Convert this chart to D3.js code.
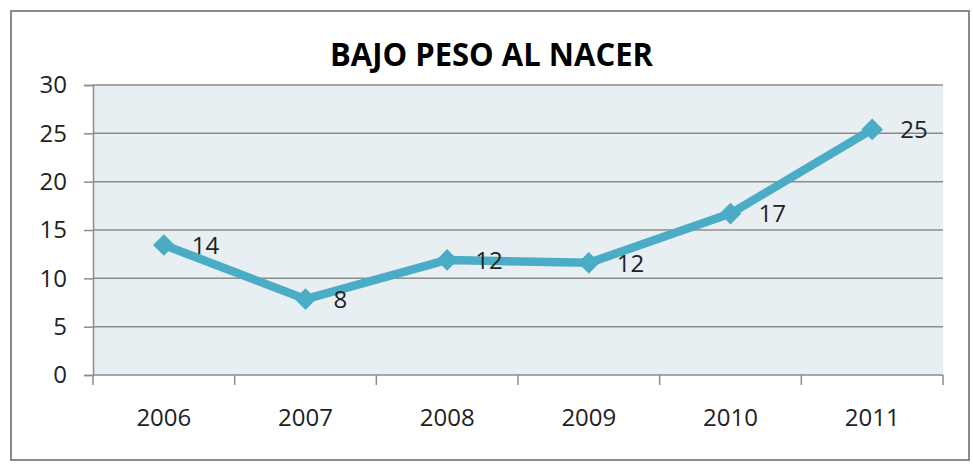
<!DOCTYPE html>
<html>
<head>
<meta charset="utf-8">
<script src="https://cdn.jsdelivr.net/npm/d3@7"></script>
<style>
	body { margin: 0; background: #fff; }
	text { font-family: "Open Sans", sans-serif; fill: #222; }
</style>
</head>
<body>
<div id="chart"></div>
<script>
var years = ['2006', '2007', '2008', '2009', '2010', '2011'];
var values = [13.45, 7.85, 11.9, 11.6, 16.7, 25.4];
var labels = ['14', '8', '12', '12', '17', '25'];
var yTicks = [0, 5, 10, 15, 20, 25, 30];

var
W = 973, H = 466,
margin = {top: 85, right: 30, bottom: 91, left: 93},
width = 943 - margin.left,
height = 375 - margin.top,
COLOR = '#4bacc6',
GRID = '#8c8c8c';

var svg = d3.select('#chart')
	.append('svg')
	.attr('width', W)
	.attr('height', H);

// рамка всей диаграммы
svg.append('rect')
	.attr('x', 11).attr('y', 11)
	.attr('width', 958).attr('height', 449)
	.attr('fill', '#fff')
	.attr('stroke', '#8a8a8a')
	.attr('stroke-width', 2);

svg.append('text')
	.attr('x', 491.5)
	.attr('y', 66)
	.attr('text-anchor', 'middle')
	.attr('font-size', 32)
	.attr('font-weight', 'bold')
	.attr('textLength', 323)
	.attr('lengthAdjust', 'spacingAndGlyphs')
	.style('fill', '#000')
	.text('BAJO PESO AL NACER');

var g = svg.append('g')
	.attr('transform', 'translate(' + margin.left + ',' + margin.top + ')');

var x = d3.scaleBand().domain(years).range([0, width]);
var y = d3.scaleLinear().domain([0, 30]).range([height, 0]);

g.append('rect')
	.attr('width', width)
	.attr('height', height)
	.attr('fill', '#e8eff3');

// горизонтальные линии сетки
g.selectAll('.grid')
	.data(yTicks.filter(function(d) { return d > 0; }))
	.enter()
	.append('line')
	.attr('class', 'grid')
	.attr('x1', 0).attr('x2', width)
	.attr('y1', function(d) { return y(d); })
	.attr('y2', function(d) { return y(d); })
	.attr('stroke', GRID)
	.attr('stroke-width', 1.5);

var yAxis = g.append('g')
	.call(d3.axisLeft(y).tickValues(yTicks).tickSize(9).tickPadding(17));
var boundaries = years.map(function(d) { return x(d); }).concat([width]);
var xAxis = g.append('g')
	.attr('transform', 'translate(0,' + height + ')')
	.call(d3.axisBottom(x).tickSize(0).tickPadding(34));
xAxis.selectAll('.tick-bound')
	.data(boundaries)
	.enter()
	.append('line')
	.attr('x1', function(d) { return d; })
	.attr('x2', function(d) { return d; })
	.attr('y1', 0).attr('y2', 10)
	.attr('stroke', GRID)
	.attr('stroke-width', 1.5);

[yAxis, xAxis].forEach(function(a) {
	a.select('.domain').attr('stroke', GRID).attr('stroke-width', 1.5);
	a.selectAll('.tick line').attr('stroke', GRID).attr('stroke-width', 1.5);
	a.selectAll('.tick text')
		.attr('font-size', 24)
		.attr('font-family', '"Open Sans", sans-serif')
		.style('fill', '#222');
});
xAxis.select('.domain').attr('d', 'M0,0H' + width);

var cx = function(d, i) { return x(years[i]) + x.bandwidth() / 2; };

var line = d3.line()
	.x(cx)
	.y(function(d) { return y(d); });

g.append('path')
	.datum(values)
	.attr('fill', 'none')
	.attr('stroke', COLOR)
	.attr('stroke-width', 8.5)
	.attr('stroke-linejoin', 'round')
	.attr('d', line);

g.selectAll('.marker')
	.data(values)
	.enter()
	.append('path')
	.attr('class', 'marker')
	.attr('d', d3.symbol().type(d3.symbolDiamond2).size(300))
	.attr('transform', function(d, i) {
		return 'translate(' + cx(d, i) + ',' + y(d) + ')';
	})
	.attr('fill', COLOR);

g.selectAll('.label')
	.data(values)
	.enter()
	.append('text')
	.attr('class', 'label')
	.attr('x', function(d, i) { return cx(d, i) + 28; })
	.attr('y', function(d) { return y(d); })
	.attr('dy', '0.36em')
	.attr('font-size', 24)
	.text(function(d, i) { return labels[i]; });
</script>
</body>
</html>
